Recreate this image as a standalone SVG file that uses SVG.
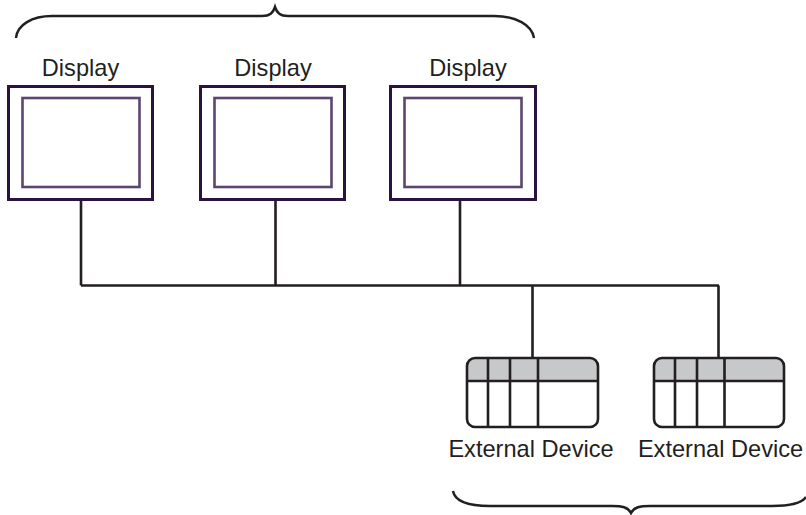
<svg xmlns="http://www.w3.org/2000/svg" width="806" height="515" viewBox="0 0 806 515">
<style>
text{font-family:"Liberation Sans",Arial,sans-serif;font-size:23.600px;fill:#231f20;text-anchor:middle}
.o{fill:#fff;stroke:#2b1240;stroke-width:3}
.i{fill:#fff;stroke:#5c4570;stroke-width:2.600}
.w{fill:none;stroke:#231f20;stroke-width:2.600}
.h{fill:#c7c8ca;stroke:none}
.b{fill:none;stroke:#231f20;stroke-width:2.500}
</style>
<rect width="806" height="515" fill="#fff"/>
<g id="connectors">
<path class="w" d="M81 285.500H719M81 200V285.500M275.500 200V285.500M460 200V285.500M532.500 285.500V358M718.500 285.500V358"/>
</g>
<g id="brace-top"><path class="b" d="M16 38C17 25 32 16 52 16H262C270 16 273 13 275 7C277 13 280 16 288 16H494C516 16 532 25 534 38"/></g>
<g id="display-1"><text x="80.500" y="76">Display</text><rect class="o" x="8.500" y="86.500" width="144" height="113"/><rect class="i" x="22.500" y="98" width="117" height="89"/></g>
<g id="display-2"><text x="273" y="76">Display</text><rect class="o" x="200.500" y="86.500" width="144" height="113"/><rect class="i" x="214.500" y="98" width="117" height="89"/></g>
<g id="display-3"><text x="468" y="76">Display</text><rect class="o" x="390.500" y="86.500" width="145" height="113"/><rect class="i" x="404.500" y="98" width="117" height="89"/></g>
<g id="device-1"><path class="h" d="M467 381V366Q467 358 475 358H590Q598 358 598 366V381Z"/><rect class="w" x="467" y="358" width="131" height="69" rx="8"/><path class="w" d="M467 381H598M488 358V427M510 358V427M538 358V427"/><text x="531" y="457">External Device</text></g>
<g id="device-2"><path class="h" d="M654 381V366Q654 358 662 358H776Q784 358 784 366V381Z"/><rect class="w" x="654" y="358" width="130" height="69" rx="8"/><path class="w" d="M654 381H784M675 358V427M697 358V427M724.500 358V427"/><text x="720.500" y="457">External Device</text></g>
<g id="brace-bottom"><path class="b" d="M453 491C455 502 468 506 490 506H612C622 506 628 507 631 513C634 507 640 506 650 506H772C790 506 802 503 806 497"/></g>
</svg>
